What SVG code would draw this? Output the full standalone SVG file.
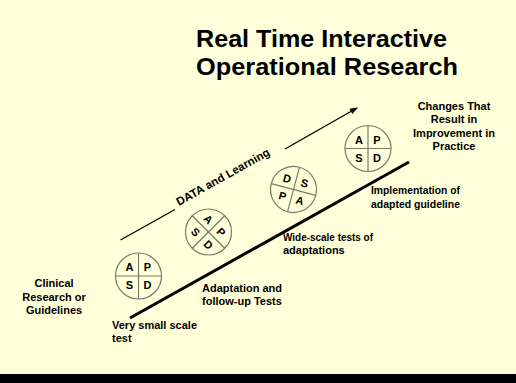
<svg xmlns="http://www.w3.org/2000/svg" width="516" height="383" viewBox="0 0 516 383">
<style>
.t{font-family:"Liberation Sans",Arial,sans-serif;font-weight:bold;fill:#000}
.lbl{font-size:11px}
.ttl{font-size:23px}
.ltr{font-size:11px;text-anchor:middle}
.cir{fill:none;stroke:#7a7a6c;stroke-width:1.2}
</style>
<defs>
<marker id="ah" markerWidth="8" markerHeight="8" refX="7" refY="4" orient="auto" markerUnits="userSpaceOnUse">
<path d="M0,1 L8,4 L0,7 Z" fill="#000"/>
</marker>
<g id="wheel">
<circle cx="0" cy="0" r="23" class="cir"/>
<line x1="0" y1="-23" x2="0" y2="23" class="cir"/>
<line x1="-23" y1="0" x2="23" y2="0" class="cir"/>
</g>
</defs>
<rect x="0" y="0" width="516" height="383" fill="#FFFFD9"/>
<rect x="0" y="374" width="516" height="9" fill="#000"/>

<g id="title">
<text class="t ttl" x="196" y="47" textLength="251" lengthAdjust="spacingAndGlyphs">Real Time Interactive</text>
<text class="t ttl" x="196" y="75" textLength="262" lengthAdjust="spacingAndGlyphs">Operational Research</text>
</g>

<g id="connectors">
<line x1="130" y1="318" x2="409" y2="162" stroke="#000" stroke-width="3"/>
<line x1="120.5" y1="240" x2="175" y2="209.5" stroke="#000" stroke-width="1.3"/>
<line x1="285" y1="149" x2="357" y2="108" stroke="#000" stroke-width="1.3" marker-end="url(#ah)"/>
<text class="t" font-size="11.5" transform="translate(179,206) rotate(-29.3)">DATA and Learning</text>
</g>

<g id="pdsa1" transform="translate(138.5,276)">
<use href="#wheel"/>
<text class="t ltr" x="-9" y="-5">A</text>
<text class="t ltr" x="9" y="-5">P</text>
<text class="t ltr" x="-9" y="13">S</text>
<text class="t ltr" x="9" y="13">D</text>
</g>

<g id="pdsa2" transform="translate(208.5,232) rotate(45)">
<use href="#wheel"/>
<text class="t ltr" x="-9" y="-5">A</text>
<text class="t ltr" x="9" y="-5">P</text>
<text class="t ltr" x="-9" y="13">S</text>
<text class="t ltr" x="9" y="13">D</text>
</g>

<g id="pdsa3" transform="translate(293.5,189.5)">
<use href="#wheel" transform="rotate(15)"/>
<text class="t ltr" transform="translate(-6.4,-11) rotate(15)" y="4">D</text>
<text class="t ltr" transform="translate(11,-6.4) rotate(15)" y="4">S</text>
<text class="t ltr" transform="translate(-11,6.4) rotate(15)" y="4">P</text>
<text class="t ltr" transform="translate(6.4,11) rotate(15)" y="4">A</text>
</g>

<g id="pdsa4" transform="translate(368,148.5)">
<use href="#wheel"/>
<text class="t ltr" x="-9" y="-5">A</text>
<text class="t ltr" x="9" y="-5">P</text>
<text class="t ltr" x="-9" y="13">S</text>
<text class="t ltr" x="9" y="13">D</text>
</g>

<g id="clinical" class="t lbl" text-anchor="middle">
<text x="54" y="287">Clinical</text>
<text x="54" y="300.5">Research or</text>
<text x="54" y="314">Guidelines</text>
</g>

<g id="very-small" class="t lbl">
<text x="112" y="329">Very small scale</text>
<text x="112" y="342">test</text>
</g>

<g id="adaptation" class="t lbl">
<text x="202" y="291.5">Adaptation and</text>
<text x="202" y="305">follow-up Tests</text>
</g>

<g id="wide-scale" class="t lbl">
<text x="283" y="240.5" textLength="90" lengthAdjust="spacingAndGlyphs">Wide-scale tests of</text>
<text x="283" y="254">adaptations</text>
</g>

<g id="implementation" class="t lbl">
<text x="371" y="194" textLength="89" lengthAdjust="spacingAndGlyphs">Implementation of</text>
<text x="371" y="208" textLength="89" lengthAdjust="spacingAndGlyphs">adapted guideline</text>
</g>

<g id="changes" class="t lbl" text-anchor="middle">
<text x="454" y="109.5">Changes That</text>
<text x="454" y="123">Result in</text>
<text x="454" y="136.5">Improvement in</text>
<text x="454" y="150">Practice</text>
</g>
</svg>
